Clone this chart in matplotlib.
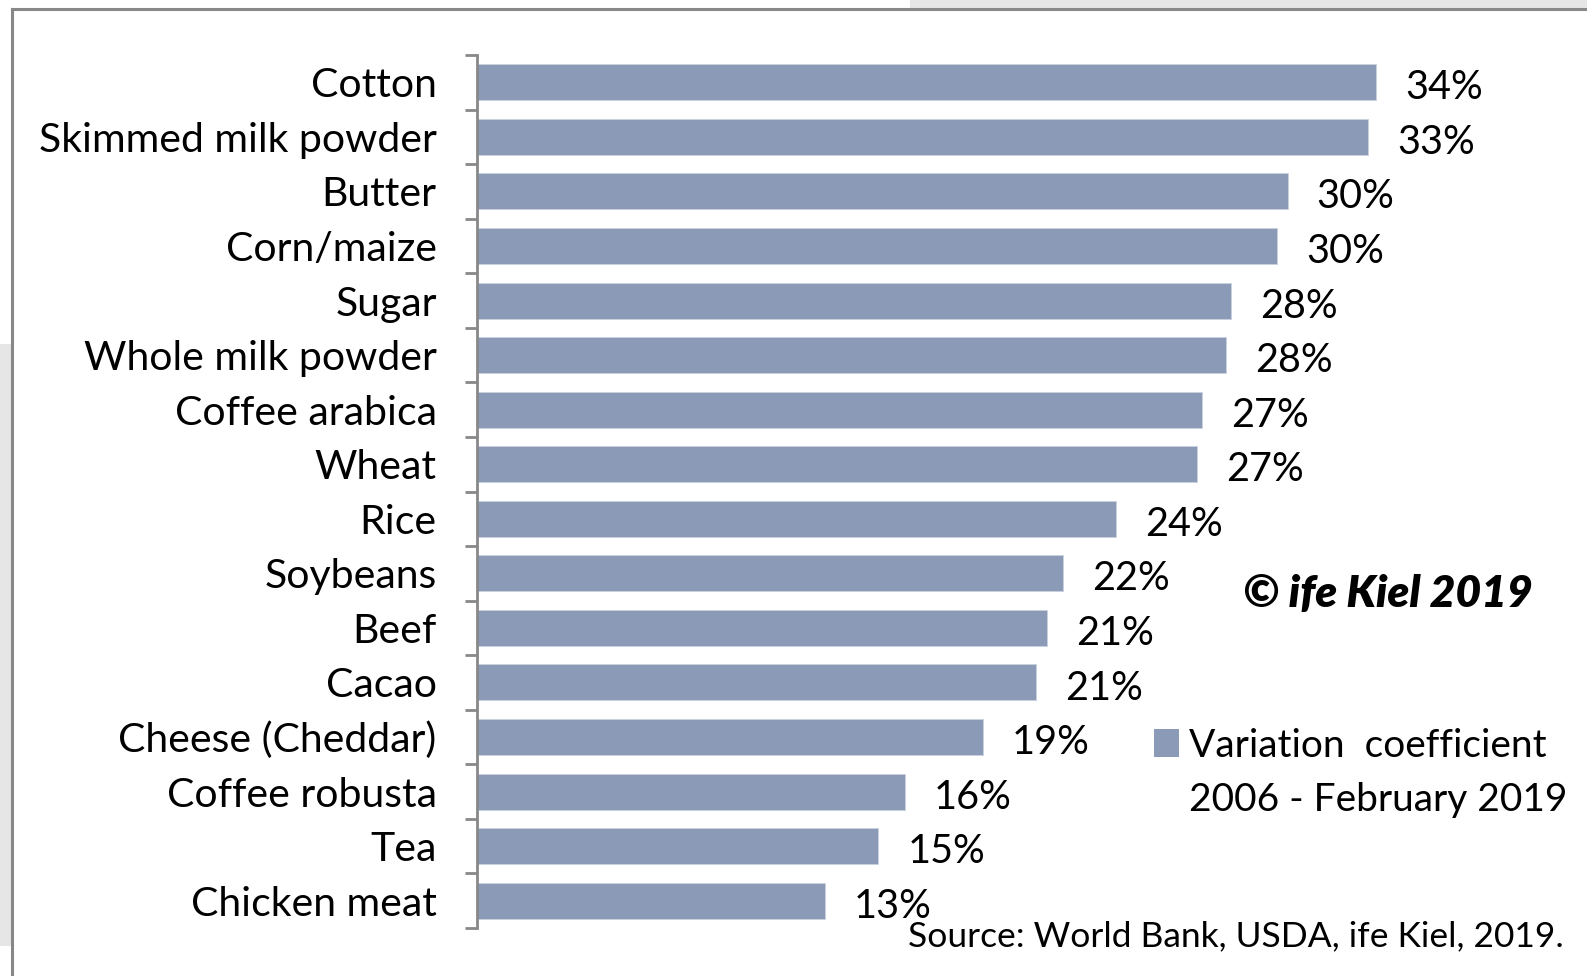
import numpy as np
import matplotlib.pyplot as plt
from matplotlib.patches import Rectangle
from matplotlib.lines import Line2D

# commodities, top to bottom
commodities = ["Cotton", "Skimmed milk powder", "Butter", "Corn/maize", "Sugar",
               "Whole milk powder", "Coffee arabica", "Wheat", "Rice", "Soybeans",
               "Beef", "Cacao", "Cheese (Cheddar)", "Coffee robusta", "Tea", "Chicken meat"]
# variation coefficient 2006 - Feb 2019 (%)
variation = [33.6, 33.3, 30.3, 29.9, 28.2, 28.0, 27.1, 26.9, 23.9, 21.9,
             21.3, 20.9, 18.9, 16.0, 15.0, 13.0]

plt.rcParams['font.family'] = ['Lato', 'DejaVu Sans']

W, H = 1587, 976
fig = plt.figure(figsize=(W/100, H/100), dpi=100)

# slide frame around the chart
fig.add_artist(Rectangle((910/W, 1-8/H), 1-910/W, 8/H, transform=fig.transFigure,
                         color='#e6e6e6', lw=0))
fig.add_artist(Rectangle((0, 1-946/H), 11/W, (946-344)/H, transform=fig.transFigure,
                         color='#e6e6e6', lw=0))
fig.add_artist(Line2D([12/W, 1], [1-9/H, 1-9/H], transform=fig.transFigure,
                      color='#888888', lw=2.2))
fig.add_artist(Line2D([12/W, 12/W], [0, 1-9/H], transform=fig.transFigure,
                      color='#888888', lw=2.2))

ax_left, ax_right = 477/W, 1580/W
ax_top, ax_bot = 1-55/H, 1-928/H
ax = fig.add_axes([ax_left, ax_bot, ax_right-ax_left, ax_top-ax_bot])

n = len(commodities)
y = np.arange(n)
bar_color = '#8b9ab7'
ax.barh(y, variation, height=0.66, color=bar_color, edgecolor='#c9d0de', linewidth=0.6)

ax.set_ylim(n-0.5, -0.5)
ax.set_xlim(0, (1580-477)/26.75)

# category labels
ax.set_yticks(y)
ax.set_yticklabels(commodities, fontsize=29.5)
ax.tick_params(axis='y', which='major', length=0, pad=29)
ax.set_yticks(np.arange(-0.5, n, 1), minor=True)
ax.tick_params(axis='y', which='minor', length=9, width=2, color='#888888', direction='out')
ax.set_xticks([])

for s in ['top', 'right', 'bottom']:
    ax.spines[s].set_visible(False)
ax.spines['left'].set_color('#888888')
ax.spines['left'].set_linewidth(2)

for yi, v in zip(y, variation):
    ax.annotate("%.0f%%" % v, (v, yi), xytext=(21, -4), textcoords='offset points',
                fontsize=28.5, va='center', ha='left')

# watermark
fig.text(1243/W, 1-594/H, "© ife Kiel 2019", fontsize=32, fontweight='heavy',
         fontstyle='italic', va='center', ha='left')

# legend box and text
fig.add_artist(Rectangle((1154/W, 1-757/H), 25/W, 28/H, transform=fig.transFigure,
                         color=bar_color, lw=0))
fig.text(1189/W, 1-746/H, "Variation  coefficient", fontsize=28, va='center', ha='left')
fig.text(1189/W, 1-800/H, "2006 - February 2019", fontsize=28, va='center', ha='left')

fig.text(1564/W, 1-936/H, "Source: World Bank, USDA, ife Kiel, 2019.", fontsize=25.5,
         va='center', ha='right')

fig.savefig("out.png", dpi=100)
